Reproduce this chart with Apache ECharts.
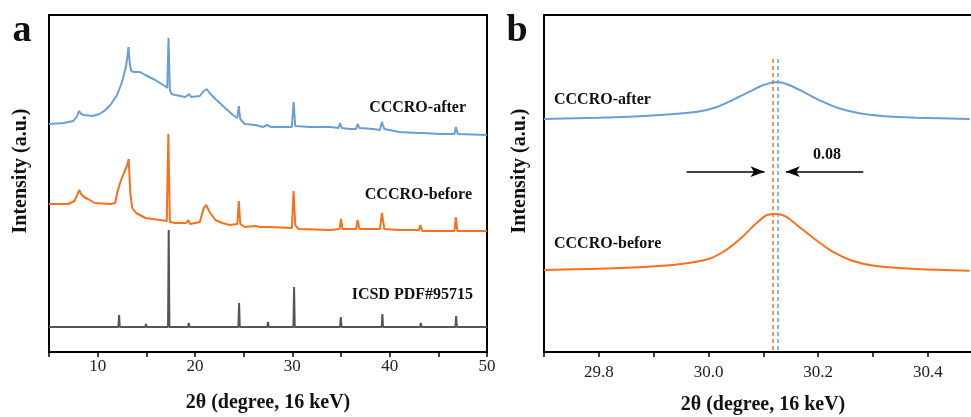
<!DOCTYPE html>
<html>
<head>
<meta charset="utf-8">
<script src="https://cdn.jsdelivr.net/npm/echarts@6/dist/echarts.min.js"></script>
<style>html,body{margin:0;padding:0;background:#fff}#c{width:971px;height:417px}</style>
</head>
<body>
<div id="c"></div>
<script>
// Panel a: CCCRO-after (offset trace)
const aAfterX = [5.0,6.5,7.5,7.9,8.08,8.3,8.6,9.5,10.2,10.8,11.3,12.0,12.5,12.9,13.05,13.17,13.3,13.45,13.75,14.35,14.9,15.9,16.9,17.15,17.28,17.42,17.6,17.95,19.0,19.4,19.6,20.5,20.9,21.2,21.5,22.1,23.1,23.9,24.35,24.5,24.65,25.1,26.2,27.0,27.4,27.8,29.95,30.13,30.3,31.8,33.9,34.75,34.9,35.1,35.9,36.55,36.7,36.9,38.3,39.0,39.2,39.45,41.0,42.9,43.1,43.4,45.2,46.65,46.8,47.0,50.0];
const aAfterY = [228,229,231,236,241,238,237,236,238,242,247,257,270,285,295,305,288,281,280,280,277,272,266,264,314,262,258,257,255,258,255,256,261,263,259,253,244,237,234,246,233,228,227,225,227,225,225,250,226,225,225,224,229,224,223,223,228,224,223,222,230,223,220,219,221,219,218,218,225,218,217];
// Panel a: CCCRO-before
const aBeforeX = [5.0,7.0,7.6,7.9,8.1,8.3,8.6,9.0,9.7,11.3,11.8,12.0,12.3,12.7,13.0,13.19,13.35,13.55,13.95,14.9,16.4,17.1,17.26,17.42,18.0,19.1,19.3,19.5,20.5,20.9,21.15,21.5,22.1,22.8,23.6,24.35,24.5,24.65,25.1,26.2,26.7,27.35,27.5,27.65,29.95,30.13,30.3,30.6,33.9,34.85,35.0,35.15,36.55,36.7,36.9,39.0,39.2,39.45,41.0,43.0,43.15,43.35,46.65,46.8,46.95,50.0];
const aBeforeY = [148,148,151,157,162,158,155,153,149,148,149,159,169,179,186,193,159,144,139,134,132,131,218,130,129,129,132,128,130,144,147,140,132,129,127,128,151,128,125,126,125,125,127,125,124,161,127,123,122,123,133,123,123,132,123,123,139,123,122,122,127,121,121,135,121,121];
// Panel a: ICSD PDF#95715 reference sticks
const refBase = 25;
const refPos = [8.63,12.2,14.97,17.3,19.36,22.9,24.53,26.0,27.5,30.18,34.98,37.1,39.25,41.25,43.2,46.83];
const refHeight = [27,37,28,122,29,27,49,27,30,65,35,27,38,27,29,36];
// Panel b: zoom of the ~30.1 peak
const bAfterX = [29.70,29.80,29.89,29.98,30.014,30.044,30.075,30.099,30.125,30.147,30.178,30.208,30.238,30.275,30.317,30.378,30.476];
const bAfterY = [233,234.3,236.3,240.3,244.7,252,260.3,266.7,270,267,258.7,250.3,243.7,238.7,236,234.3,233];
const bBeforeX = [29.70,29.80,29.89,29.95,30.0,30.032,30.062,30.087,30.108,30.126,30.141,30.165,30.196,30.226,30.262,30.305,30.378,30.476];
const bBeforeY = [82,83.3,85.3,88,93,102,115.3,128.7,137.3,138,135.3,125.3,112,100.3,91.3,86,83,81.3];
const peakBefore = 30.117, peakAfter = 30.126;
const ticksA = [5,10,15,20,25,30,35,40,45,50];
const labelsA = [10,20,30,40,50];
const ticksB = [29.7,29.8,29.9,30.0,30.1,30.2,30.3,30.4];
const labelsB = [29.8,30.0,30.2,30.4];

const zip = (xs, ys) => xs.map((x, i) => [x, ys[i]]);
const refData = [[5, refBase]];
refPos.forEach((p, i) => { refData.push([p - 0.07, refBase], [p, refHeight[i]], [p + 0.07, refBase]); });
refData.push([50, refBase]);

const BLUE = '#6a9fd6', ORANGE = '#f8711a', GREY = '#555555';
const FONT = 'Liberation Serif';

const chart = echarts.init(document.getElementById('c'), null, {renderer: 'canvas'});
const xAxisCommon = {
  type: 'value',
  axisLine: {show: true, lineStyle: {color: '#000', width: 2}},
  axisTick: {show: true, length: 5, lineStyle: {color: '#000', width: 1.5}},
  splitLine: {show: false}
};
const yAxisCommon = {
  type: 'value', min: 0, max: 337,
  axisLine: {show: true, lineStyle: {color: '#000', width: 2}},
  axisTick: {show: false}, axisLabel: {show: false}, splitLine: {show: false}
};
const txt = (x, y, text, size, align, extra) => Object.assign({
  type: 'text', x: x, y: y,
  style: {text: text, fontFamily: FONT, fontSize: size, fontWeight: 'bold', fill: '#111', align: align || 'center', verticalAlign: 'middle'}
}, extra || {});
const serifRich = {s: {fontFamily: FONT, fontSize: 17, color: '#222'}};

chart.setOption({
  animation: false,
  backgroundColor: '#fff',
  textStyle: {fontFamily: FONT},
  grid: [
    {left: 49, top: 15, width: 438, height: 337, show: true, borderColor: '#000', borderWidth: 2, outerBoundsMode: 'none', containLabel: false},
    {left: 544, top: 15, width: 430, height: 337, show: true, borderColor: '#000', borderWidth: 2, outerBoundsMode: 'none', containLabel: false}
  ],
  xAxis: [
    Object.assign({}, xAxisCommon, {gridIndex: 0, min: 5, max: 50,
      axisTick: Object.assign({}, xAxisCommon.axisTick, {customValues: ticksA}),
      axisLabel: {customValues: labelsA, margin: 6, color: '#222', fontFamily: FONT, fontSize: 17,
        formatter: function (v) { return '{s|' + Number(v).toFixed(0) + '}'; }, rich: serifRich}}),
    Object.assign({}, xAxisCommon, {gridIndex: 1, min: 29.7, max: 30.484,
      axisTick: Object.assign({}, xAxisCommon.axisTick, {customValues: ticksB}),
      axisLabel: {customValues: labelsB, margin: 12, color: '#222', fontFamily: FONT, fontSize: 17,
        formatter: function (v) { return '{s|' + Number(v).toFixed(1) + '}'; }, rich: serifRich}})
  ],
  yAxis: [
    Object.assign({}, yAxisCommon, {gridIndex: 0}),
    Object.assign({}, yAxisCommon, {gridIndex: 1})
  ],
  series: [
    {type: 'line', xAxisIndex: 0, yAxisIndex: 0, data: refData, showSymbol: false, lineStyle: {color: GREY, width: 2}, silent: true},
    {type: 'line', xAxisIndex: 0, yAxisIndex: 0, data: zip(aBeforeX, aBeforeY), showSymbol: false, lineStyle: {color: ORANGE, width: 2}, silent: true},
    {type: 'line', xAxisIndex: 0, yAxisIndex: 0, data: zip(aAfterX, aAfterY), showSymbol: false, lineStyle: {color: BLUE, width: 2}, silent: true},
    {type: 'line', xAxisIndex: 1, yAxisIndex: 1, data: zip(bBeforeX, bBeforeY), showSymbol: false, smooth: 0.3, lineStyle: {color: ORANGE, width: 2}, silent: true,
      markLine: {silent: true, symbol: ['none', 'none'], label: {show: false},
        lineStyle: {color: ORANGE, type: [4, 3], width: 1.5},
        data: [[{coord: [peakBefore, 293]}, {coord: [peakBefore, 0]}]]}},
    {type: 'line', xAxisIndex: 1, yAxisIndex: 1, data: zip(bAfterX, bAfterY), showSymbol: false, smooth: 0.3, lineStyle: {color: BLUE, width: 2}, silent: true,
      markLine: {silent: true, symbol: ['none', 'none'], label: {show: false},
        lineStyle: {color: BLUE, type: [4, 3], width: 1.5},
        data: [[{coord: [peakAfter, 293]}, {coord: [peakAfter, 0]}]]}},
    {type: 'line', xAxisIndex: 1, yAxisIndex: 1, data: [], silent: true,
      markLine: {silent: true, symbol: ['none', 'arrow'], symbolSize: [8, 14], label: {show: false},
        lineStyle: {color: '#000', type: 'solid', width: 1.5},
        data: [
          [{coord: [29.96, 180.3]}, {coord: [30.102, 180.3]}],
          [{coord: [30.282, 180.3]}, {coord: [30.141, 180.3]}]
        ]}}
  ],
  graphic: [
    txt(22, 31, 'a', 38),
    txt(517, 31, 'b', 38),
    txt(466, 108, 'CCCRO-after', 16, 'right'),
    txt(472, 195, 'CCCRO-before', 16, 'right'),
    txt(473, 295, 'ICSD PDF#95715', 16, 'right'),
    txt(554, 100, 'CCCRO-after', 16, 'left'),
    txt(554, 244, 'CCCRO-before', 16, 'left'),
    txt(827, 155, '0.08', 16, 'center'),
    txt(268, 403, '2θ (degree, 16 keV)', 20, 'center'),
    txt(763, 405, '2θ (degree, 16 keV)', 20, 'center'),
    txt(21, 171, 'Intensity (a.u.)', 20, 'center', {rotation: Math.PI / 2}),
    txt(520, 171, 'Intensity (a.u.)', 20, 'center', {rotation: Math.PI / 2})
  ]
});
</script>
</body>
</html>
